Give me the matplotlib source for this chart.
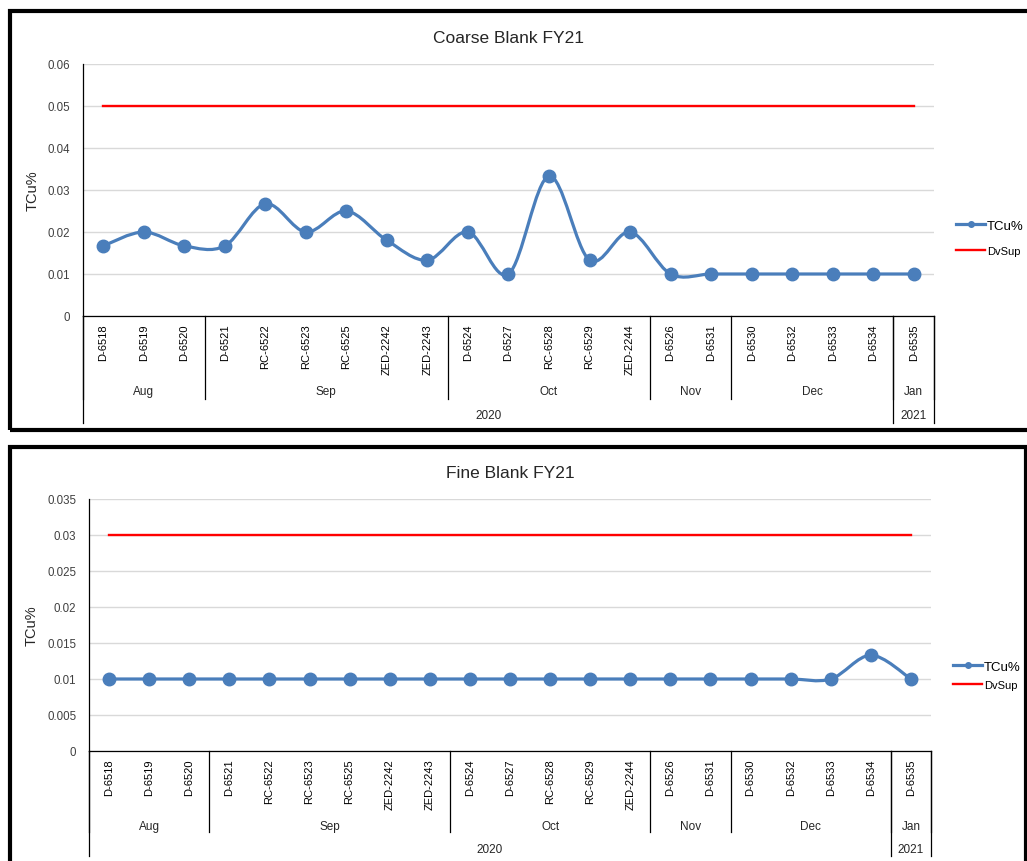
import numpy as np
import matplotlib.pyplot as plt
from matplotlib.path import Path
from matplotlib.patches import PathPatch, Rectangle

plt.rcParams['font.family'] = ['Liberation Sans', 'DejaVu Sans']

labels = ['D-6518', 'D-6519', 'D-6520', 'D-6521', 'RC-6522', 'RC-6523', 'RC-6525',
          'ZED-2242', 'ZED-2243', 'D-6524', 'D-6527', 'RC-6528', 'RC-6529', 'ZED-2244',
          'D-6526', 'D-6531', 'D-6530', 'D-6532', 'D-6533', 'D-6534', 'D-6535']
months = ['Aug', 'Sep', 'Oct', 'Nov', 'Dec', 'Jan']
month_sizes = [3, 6, 5, 2, 4, 1]
years = ['2020', '2021']
year_sizes = [20, 1]

coarse_tcu = [0.0167, 0.02, 0.0167, 0.0167, 0.0267, 0.02, 0.025, 0.018, 0.0133,
              0.02, 0.01, 0.0333, 0.0133, 0.02, 0.01, 0.01, 0.01, 0.01, 0.01, 0.01, 0.01]
coarse_dvsup = 0.05
fine_tcu = [0.01, 0.01, 0.01, 0.01, 0.01, 0.01, 0.01, 0.01, 0.01, 0.01, 0.01, 0.01,
            0.01, 0.01, 0.01, 0.01, 0.01, 0.01, 0.01, 0.0133, 0.01]
fine_dvsup = 0.03

BLUE = '#4A7EBB'
RED = '#FF0000'
GRID = '#D9D9D9'
TXT = '#404040'


def smooth_path(x, y):
    # Excel-style smoothed line: cubic Bezier through the points
    verts = [(x[0], y[0])]
    codes = [Path.MOVETO]
    n = len(x)
    for i in range(n - 1):
        p0 = np.array([x[max(i - 1, 0)], y[max(i - 1, 0)]])
        p1 = np.array([x[i], y[i]])
        p2 = np.array([x[i + 1], y[i + 1]])
        p3 = np.array([x[min(i + 2, n - 1)], y[min(i + 2, n - 1)]])
        c1 = p1 + (p2 - p0) / 6
        c2 = p2 - (p3 - p1) / 6
        verts += [tuple(c1), tuple(c2), tuple(p2)]
        codes += [Path.CURVE4] * 3
    return Path(verts, codes)


def draw_chart(ax, title, tcu, dvsup, ymax, ystep, lev, leg_y, leg_sp):
    x = np.arange(len(tcu))
    ax.set_xlim(-0.5, len(tcu) - 0.5)
    ax.set_ylim(0, ymax)
    ticks = np.arange(0, ymax + ystep / 2, ystep)
    ax.set_yticks(ticks)
    ax.set_yticklabels(['0'] + ['%g' % round(v, 4) for v in ticks[1:]])
    ax.tick_params(axis='y', length=0, labelsize=8.3, labelcolor=TXT, pad=9)
    ax.set_xticks([])
    ax.grid(axis='y', color=GRID, lw=1)
    ax.set_axisbelow(True)
    for s in ['top', 'right']:
        ax.spines[s].set_visible(False)
    for s in ['left', 'bottom']:
        ax.spines[s].set_color('black')
        ax.spines[s].set_linewidth(0.9)

    ax.plot([x[0], x[-1]], [dvsup, dvsup], color=RED, lw=1.7, zorder=3)
    ax.add_patch(PathPatch(smooth_path(x, tcu), fill=False, edgecolor=BLUE, lw=2.3, zorder=4))
    ax.plot(x, tcu, 'o', color=BLUE, ms=9, zorder=5)

    ax.set_title(title, fontsize=12.5, color='#262626', pad=16)
    ax.set_ylabel('TCu%', fontsize=10.5, color='#262626', labelpad=6)

    tr = ax.get_xaxis_transform()
    for i, lab in enumerate(labels):
        ax.text(i, -0.03, lab, rotation=90, ha='center', va='top', fontsize=8,
                color='black', transform=tr)
    m_bot, m_lab, y_bot, y_lab = lev
    start = 0
    edges = [-0.5]
    for name, size in zip(months, month_sizes):
        ax.text(start + (size - 1) / 2, m_lab, name, ha='center', va='center',
                fontsize=8.5, color='#262626', transform=tr)
        start += size
        edges.append(start - 0.5)
    for e in edges:
        ax.plot([e, e], [0, m_bot], color='black', lw=0.9, transform=tr, clip_on=False)
    start = 0
    yedges = [-0.5]
    for name, size in zip(years, year_sizes):
        ax.text(start + (size - 1) / 2, y_lab, name, ha='center', va='center',
                fontsize=8.5, color='#262626', transform=tr)
        start += size
        yedges.append(start - 0.5)
    for e in yedges:
        ax.plot([e, e], [0, y_bot], color='black', lw=0.9, transform=tr, clip_on=False)

    h1, = ax.plot([], [], '-', color=BLUE, lw=2.3, marker='o', ms=4, markevery=[1])
    h2, = ax.plot([], [], '-', color=RED, lw=1.7)
    leg = ax.legend([h1, h2], ['TCu%', 'DvSup'], loc='center left',
                    bbox_to_anchor=(1.0, leg_y), frameon=False, fontsize=9.5,
                    handlelength=2.2, handletextpad=0.1, labelspacing=leg_sp,
                    borderaxespad=1.3)
    leg.get_texts()[1].set_fontsize(8)


fig = plt.figure(figsize=(10.27, 8.62), dpi=100)
W, H = 1027, 862

ax1 = fig.add_axes([83 / W, 1 - 317 / H, 851 / W, 252 / H])
draw_chart(ax1, 'Coarse Blank FY21', coarse_tcu, coarse_dvsup, 0.06, 0.01,
           (-0.329, -0.298, -0.425, -0.393), 0.31, 1.0)

ax2 = fig.add_axes([89 / W, 1 - 752 / H, 842 / W, 252 / H])
draw_chart(ax2, 'Fine Blank FY21', fine_tcu, fine_dvsup, 0.035, 0.005,
           (-0.321, -0.298, -0.417, -0.389), 0.30, 0.5)

# outer chart borders
fig.patches.append(Rectangle((9.5 / W, 1 - 431 / H), 1030 / W, 419 / H, fill=False,
                             edgecolor='black', lw=3, transform=fig.transFigure))
fig.patches.append(Rectangle((9.5 / W, 1 - 880 / H), 1016 / W, 432 / H, fill=False,
                             edgecolor='black', lw=3, transform=fig.transFigure))

fig.savefig('out.png', dpi=100)
